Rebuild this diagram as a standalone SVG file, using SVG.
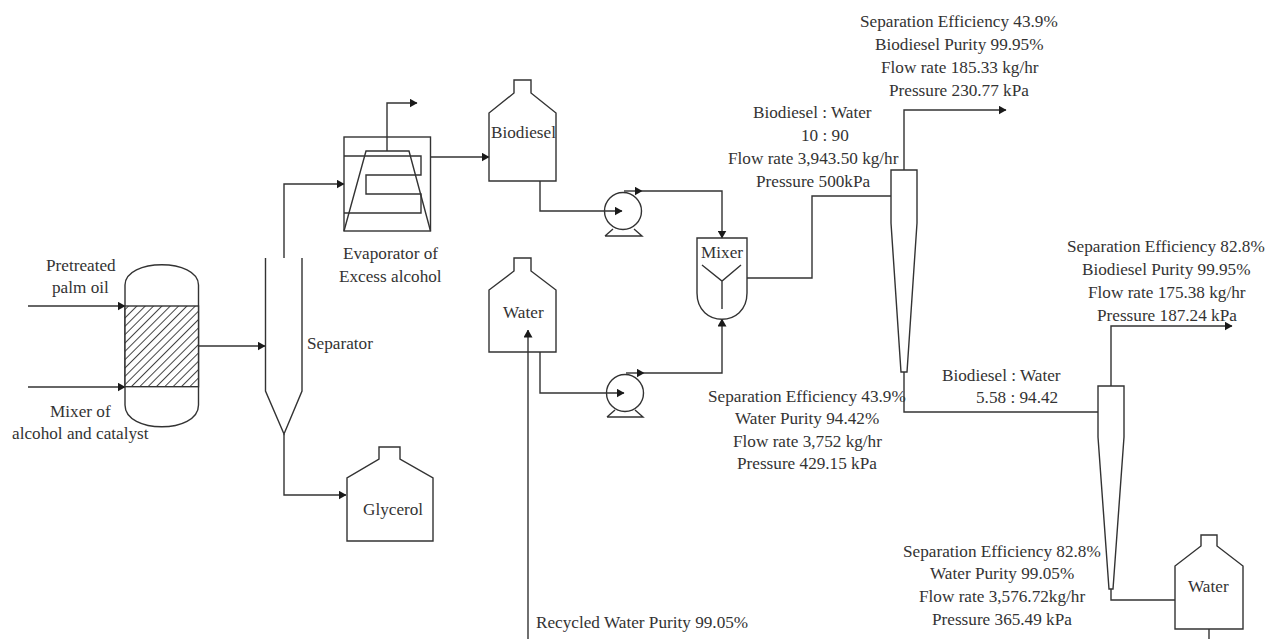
<svg xmlns="http://www.w3.org/2000/svg" width="1279" height="639" viewBox="0 0 1279 639">
<style>
text{font-family:"Liberation Serif","Times New Roman",serif;font-size:17.2px;fill:#333}
.s{fill:none;stroke:#333;stroke-width:1.4}
.w{fill:#fff;stroke:#333;stroke-width:1.4}
.c{fill:none;stroke:#333;stroke-width:1.4}
.a{marker-end:url(#arrow)}
</style>
<defs>
<marker id="arrow" viewBox="0 0 8 9" refX="7.500" refY="4.500" markerWidth="8" markerHeight="9" markerUnits="userSpaceOnUse" orient="auto"><path d="M0 0L8 4.500L0 9Z" fill="#1a1a1a"/></marker>
<pattern id="hatch" width="5.900" height="5.900" patternUnits="userSpaceOnUse" patternTransform="rotate(45)"><rect width="5.900" height="5.900" fill="#fff"/><line x1="0" y1="0" x2="0" y2="5.900" stroke="#444" stroke-width="2"/></pattern>
</defs>
<rect width="1279" height="639" fill="#fff"/>
<g id="connectors">
<path class="c a" d="M28 306H125"/>
<path class="c a" d="M28 387H125"/>
<path class="c a" d="M198 346H265"/>
<path class="c a" d="M284 258V184H344"/>
<path class="c a" d="M284 434V495H346"/>
<path class="c a" d="M387 151V103H417"/>
<path class="c a" d="M430 157H489"/>
<path class="c a" d="M540 181V211H622"/>
<path class="c a" d="M540 352V393H624"/>
<path class="c a" d="M624 191H642"/>
<path class="c a" d="M626 373H644"/>
<path class="c a" d="M642 191H722V238"/>
<path class="c a" d="M644 373H722V319"/>
<path class="c" d="M747 278H812V196H891"/>
<path class="c a" d="M904 170V110H1006"/>
<path class="c" d="M904 372V412H1098"/>
<path class="c a" d="M1111 386V326H1232"/>
<path class="c" d="M1111 589V600H1175"/>
<path class="c a" d="M528 639V330"/>
<path class="c" d="M1209 629V639"/>
</g>
<g id="reactor">
<path class="w" d="M125 285C125 258 198.500 258 198.500 285V405C198.500 434 125 434 125 405Z"/>
<rect x="125" y="306" width="73.500" height="80.700" fill="url(#hatch)" stroke="#333" stroke-width="1.400"/>
<text x="46" y="271">Pretreated</text>
<text x="52" y="293">palm oil</text>
<text x="50" y="417">Mixer of</text>
<text x="12" y="439">alcohol and catalyst</text>
</g>
<g id="separator">
<path class="s" d="M265.500 258V391L284 434L302 391V258"/>
<text x="307" y="349">Separator</text>
</g>
<g id="evaporator">
<rect class="s" x="344" y="137" width="86.500" height="94"/>
<path class="s" d="M344 231L366 151H409L430.500 231"/>
<path class="s" d="M344 156H421V175H366V194H421V213H344"/>
<text x="343" y="259">Evaporator of</text>
<text x="339" y="282">Excess alcohol</text>
</g>
<g id="glycerol">
<path class="s" d="M379 459V447H400V459L433 478V541H347V478Z"/>
<text x="363" y="515">Glycerol</text>
</g>
<g id="tank-biodiesel">
<path class="s" d="M514 93V80H531V93L556 113V181H489V113Z"/>
<text x="491" y="138">Biodiesel</text>
</g>
<g id="tank-water">
<path class="s" d="M514 271V258H531V271L556 290V352H489V290Z"/>
<text x="503" y="318">Water</text>
</g>
<g id="pump-1">
<circle class="s" cx="623" cy="211" r="18.500"/>
<path class="s" d="M605 236H642L634 229M605 236L613 229"/>
</g>
<g id="pump-2">
<circle class="s" cx="625" cy="393" r="18.500"/>
<path class="s" d="M607 417H643L635 410M607 417L615 410"/>
</g>
<g id="mixer">
<path class="s" d="M697 238H747V293C747 328 697 328 697 293Z"/>
<path class="s" d="M702 265L722 281L741 265M722 281V309"/>
<text x="701" y="258">Mixer</text>
</g>
<g id="cyclone-1">
<path class="s" d="M891 170H917V223L907 372H901L891 223Z"/>
<text x="860" y="27">Separation Efficiency 43.9%</text>
<text x="875" y="50">Biodiesel Purity 99.95%</text>
<text x="881" y="73">Flow rate 185.33 kg/hr</text>
<text x="889" y="96">Pressure 230.77 kPa</text>
<text x="753" y="118">Biodiesel : Water</text>
<text x="801" y="141">10 : 90</text>
<text x="728" y="164">Flow rate 3,943.50 kg/hr</text>
<text x="756" y="187">Pressure 500kPa</text>
<text x="708" y="402">Separation Efficiency 43.9%</text>
<text x="735" y="424">Water Purity 94.42%</text>
<text x="733" y="447">Flow rate 3,752 kg/hr</text>
<text x="737" y="469">Pressure 429.15 kPa</text>
</g>
<g id="cyclone-2">
<path class="s" d="M1098 386H1124V437L1113 589H1109L1098 437Z"/>
<text x="1067" y="252">Separation Efficiency 82.8%</text>
<text x="1082" y="275">Biodiesel Purity 99.95%</text>
<text x="1088" y="298">Flow rate 175.38 kg/hr</text>
<text x="1097" y="321">Pressure 187.24 kPa</text>
<text x="942" y="381">Biodiesel : Water</text>
<text x="976" y="403">5.58 : 94.42</text>
<text x="903" y="557">Separation Efficiency 82.8%</text>
<text x="930" y="579">Water Purity 99.05%</text>
<text x="919" y="602">Flow rate 3,576.72kg/hr</text>
<text x="932" y="625">Pressure 365.49 kPa</text>
</g>
<g id="tank-water-2">
<path class="s" d="M1201 546V535H1217V546L1243 566V629H1175V566Z"/>
<text x="1188" y="592">Water</text>
</g>
<g id="recycled-label">
<text x="536" y="628">Recycled Water Purity 99.05%</text>
</g>
</svg>
